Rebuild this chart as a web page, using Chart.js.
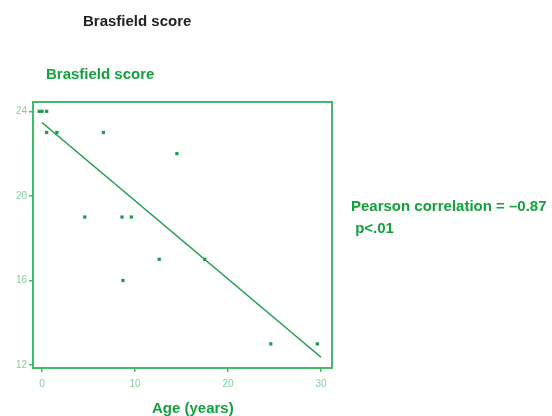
<!DOCTYPE html>
<html>
<head>
<meta charset="utf-8">
<script src="https://cdn.jsdelivr.net/npm/chart.js@4"></script>
<style>
  body { margin: 0; background: #fff; }
  #wrap { position: relative; width: 552px; height: 416px; overflow: hidden; }
  .txt { position: absolute; font-family: 'Liberation Sans', Arial, sans-serif; font-weight: bold; font-size: 15px; line-height: 15px; white-space: pre; }
  .green { color: #14a03c; }
</style>
</head>
<body>
<div id="wrap">
  <canvas id="grafico" width="552" height="416"></canvas>
  <div class="txt" style="left:83px; top:13px; color:#222;">Brasfield score</div>
  <div class="txt green" style="left:46px; top:66px;">Brasfield score</div>
  <div class="txt green" style="left:351px; top:198px;">Pearson correlation = –0.87</div>
  <div class="txt green" style="left:351px; top:220px;"> p&lt;.01</div>
  <div class="txt green" style="left:152px; top:400px;">Age (years)</div>
</div>
<script>
const ages   = [-0.3, 0.0, 0.5, 0.5, 1.6, 6.6, 14.5, 4.6, 8.6, 9.6, 8.7, 12.6, 17.5, 24.6, 29.6];
const scores = [24, 24, 24, 23, 23, 23, 22, 19, 19, 19, 16, 17, 17, 13, 13];
const fitAges   = [0, 30];
const fitScores = [23.47, 12.37];
const xTicks = [0, 10, 20, 30];
const yTicks = [12, 16, 20, 24];

const frameColor = '#45b86c';
const tickColor = '#86cf9c';
const markColor = '#1c9c4c';

// marco alrededor del area del grafico
const marco = {
  id: 'marco',
  afterDraw(chart) {
    const a = chart.chartArea;
    const ctx = chart.ctx;
    ctx.save();
    ctx.strokeStyle = frameColor;
    ctx.lineWidth = 2;
    ctx.strokeRect(a.left, a.top, a.right - a.left, a.bottom - a.top);
    ctx.restore();
  }
};

new Chart(document.getElementById('grafico').getContext('2d'), {
  type: 'scatter',
  data: {
    datasets: [
      {
        data: ages.map((x, i) => ({ x: x, y: scores[i] })),
        backgroundColor: markColor,
        borderWidth: 0,
        pointStyle: 'rect',
        pointRadius: 2.3
      },
      {
        type: 'line',
        data: fitAges.map((x, i) => ({ x: x, y: fitScores[i] })),
        borderColor: markColor,
        borderWidth: 1.5,
        pointRadius: 0,
        fill: false
      }
    ]
  },
  options: {
    responsive: false,
    animation: false,
    layout: { padding: { left: 0, top: 102, right: 220, bottom: 0 } },
    plugins: { legend: { display: false }, tooltip: { enabled: false } },
    scales: {
      x: {
        type: 'linear',
        min: -0.97,
        max: 31.18,
        afterBuildTicks: s => { s.ticks = xTicks.map(v => ({ value: v })); },
        afterFit: s => { s.height = 48; },
        grid: { drawOnChartArea: false, tickLength: 4, color: frameColor, lineWidth: 1.5 },
        border: { display: false },
        ticks: { color: tickColor, font: { family: 'Liberation Sans', size: 10 }, padding: 6, maxRotation: 0 }
      },
      y: {
        min: 11.86,
        max: 24.44,
        afterBuildTicks: s => { s.ticks = yTicks.map(v => ({ value: v })); },
        afterFit: s => { s.width = 33; },
        grid: { drawOnChartArea: false, tickLength: 4, color: frameColor, lineWidth: 1.5 },
        border: { display: false },
        ticks: { color: tickColor, font: { family: 'Liberation Sans', size: 10 }, padding: 2 }
      }
    }
  },
  plugins: [marco]
});
</script>
</body>
</html>
